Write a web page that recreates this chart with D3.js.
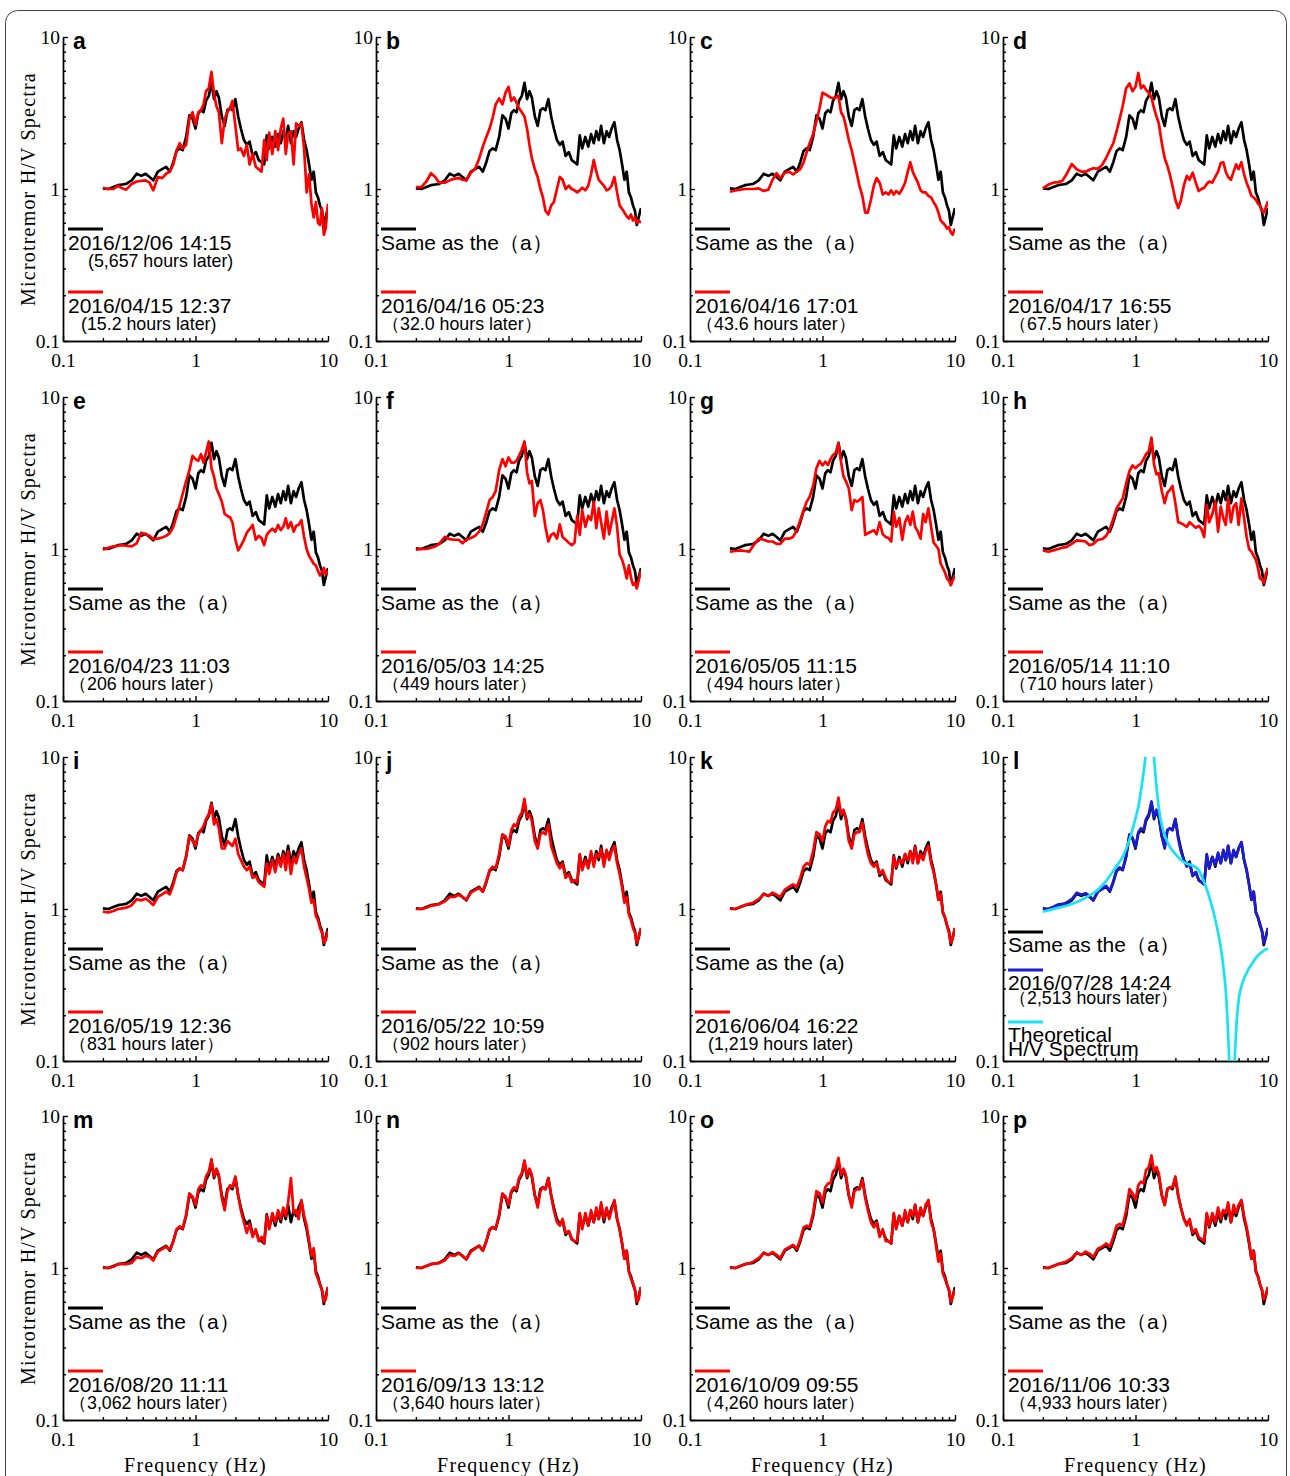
<!DOCTYPE html>
<html>
<head>
<meta charset="utf-8">
<script src="https://cdn.jsdelivr.net/npm/d3@7"></script>
<style>
body { margin: 0; background: #fff; }
</style>
</head>
<body>
<script>
// frequency grid (Hz) shared by the measured spectra
const FREQ = [
  0.2, 0.22, 0.24, 0.26, 0.28, 0.3, 0.33, 0.36, 0.39, 0.42, 0.45, 0.48, 0.52, 0.56, 0.6,
  0.64, 0.68, 0.72, 0.76, 0.8, 0.85, 0.9, 0.95, 1.0, 1.05, 1.1, 1.15, 1.2, 1.26, 1.32,
  1.38, 1.44, 1.5, 1.58, 1.66, 1.74, 1.82, 1.9, 2.0, 2.1, 2.2, 2.32, 2.44, 2.56, 2.7,
  2.85, 3.0, 3.15, 3.3, 3.45, 3.6, 3.8, 4.0, 4.2, 4.4, 4.6, 4.8, 5.0, 5.25, 5.5,
  5.75, 6.0, 6.3, 6.6, 6.9, 7.2, 7.5, 7.8, 8.1, 8.4, 8.7, 9.0, 9.3, 9.6, 10.0];

// black reference: 2016/12/06 14:15
const REF_1206 = [
  1.01, 1.0, 1.03, 1.06, 1.07, 1.08, 1.14, 1.26, 1.22, 1.26, 1.2, 1.14, 1.3, 1.35, 1.4,
  1.3, 1.5, 1.78, 1.85, 1.8, 2.2, 3.05, 2.9, 2.5, 3.15, 3.3, 3.2, 3.8, 4.1, 5.0,
  3.9, 4.4, 4.0, 3.0, 2.6, 3.3, 3.4, 3.3, 3.9, 3.0, 2.5, 2.1, 1.95, 2.05, 1.65,
  1.75, 1.55, 1.5, 1.45, 2.25, 1.85, 2.2, 1.9, 2.3, 2.0, 2.4, 2.1, 2.6, 2.0, 2.4,
  2.2, 2.5, 2.75, 2.1, 1.8, 1.45, 1.15, 1.3, 0.95, 0.88, 0.78, 0.72, 0.58, 0.65, 0.75];

const RED_A = [
  1.02, 1.0, 1.0, 1.05, 1.01, 0.99, 1.08, 1.12, 1.13, 1.14, 1.1, 0.98, 1.2, 1.18, 1.26,
  1.3, 1.45, 1.8, 2.0, 1.85, 1.95, 2.9, 3.2, 2.65, 3.2, 3.3, 3.6, 4.4, 4.6, 5.9,
  4.2, 3.5, 3.2, 2.0, 2.9, 3.2, 3.4, 3.8, 2.6, 1.8, 1.85, 1.65, 1.95, 1.45, 1.7,
  1.4, 1.35, 1.3, 2.1, 1.55, 2.35, 1.7, 2.4, 1.8, 2.5, 2.9, 1.7, 2.3, 2.4, 1.45,
  2.7, 2.6, 2.7, 1.85, 0.95, 1.25, 0.8, 0.65, 0.82, 0.6, 0.58, 0.75, 0.5, 0.55, 0.8];
const RED_B = [
  1.03, 1.03, 1.12, 1.27, 1.2, 1.1, 1.1, 1.14, 1.17, 1.18, 1.15, 1.14, 1.28, 1.36, 1.58,
  1.9, 2.2, 2.5, 2.95, 3.6, 3.95, 3.6, 4.3, 4.7, 3.8, 4.0, 3.7, 3.4, 3.2, 3.0,
  2.5, 1.95, 1.6, 1.35, 1.2, 1.0, 0.88, 0.72, 0.68, 0.78, 0.82, 1.0, 1.2, 1.15, 1.0,
  1.05, 1.0, 0.98, 0.95, 0.98, 1.02, 0.98, 1.05, 1.25, 1.55, 1.3, 1.15, 1.1, 1.05, 0.98,
  1.0, 1.05, 1.2, 0.95, 0.78, 0.74, 0.7, 0.66, 0.64, 0.68, 0.62, 0.65, 0.6, 0.62, 0.6];
const RED_C = [
  0.96, 0.98, 0.99, 1.0, 1.0, 1.0, 1.01, 0.97, 0.99, 1.15, 1.27, 1.18, 1.28, 1.3, 1.25,
  1.3, 1.35, 1.5, 1.75, 2.0, 2.3, 2.8, 3.4, 4.3, 4.2, 4.1, 4.0, 3.95, 4.0, 4.1,
  3.2, 3.0, 2.6, 2.1, 1.8, 1.5, 1.25, 1.05, 0.9, 0.7, 0.7, 0.85, 1.05, 1.18, 1.1,
  0.92, 0.95, 0.92, 0.98, 0.92, 0.97, 0.93, 1.0, 1.1, 1.3, 1.5, 1.3, 1.2, 1.1, 0.98,
  0.95, 0.95, 0.9, 0.88, 0.82, 0.77, 0.7, 0.62, 0.6, 0.58, 0.55, 0.56, 0.52, 0.5, 0.55];
const RED_D = [
  1.01, 1.07, 1.1, 1.11, 1.13, 1.24, 1.46, 1.35, 1.3, 1.3, 1.34, 1.37, 1.36, 1.44, 1.6,
  1.8, 2.0, 2.4, 2.9, 3.5, 4.6, 4.95, 4.4, 4.7, 5.8, 4.6, 4.8, 4.5, 4.3, 4.0,
  3.4, 3.0, 2.7, 2.0, 1.6, 1.42, 1.24, 1.05, 0.85, 0.75, 0.84, 1.06, 1.22, 1.15, 1.28,
  1.1, 0.97, 1.0, 1.02, 1.08, 1.12, 1.1, 1.2, 1.3, 1.48, 1.5, 1.3, 1.2, 1.15, 1.3,
  1.45, 1.35, 1.5, 1.25, 1.1, 1.0, 0.9, 0.88, 0.85, 0.8, 0.78, 0.72, 0.7, 0.75, 0.83];
const RED_E = [
  0.99, 1.02, 1.04, 1.05, 1.06, 1.05, 1.04, 1.09, 1.28, 1.25, 1.22, 1.16, 1.17, 1.19, 1.22,
  1.27, 1.4, 1.65, 1.95, 2.3, 2.8, 3.3, 4.1, 3.9, 3.8, 4.2, 3.7, 4.3, 5.1, 3.4,
  3.0, 2.5, 2.3, 2.05, 1.7, 1.65, 1.62, 1.5, 1.15, 0.98, 1.05, 1.15, 1.28, 1.35, 1.44,
  1.15, 1.22, 1.18, 1.06, 1.24, 1.3, 1.36, 1.3, 1.44, 1.33, 1.4, 1.59, 1.37, 1.5, 1.3,
  1.42, 1.44, 1.55, 1.2, 1.0, 0.9, 0.85, 0.8, 0.78, 0.72, 0.67, 0.7, 0.75, 0.68, 0.72];
const RED_F = [
  0.99, 1.0, 1.0, 1.02, 1.04, 1.08, 1.2, 1.16, 1.15, 1.15, 1.09, 1.15, 1.18, 1.22, 1.3,
  1.45, 1.75, 2.1, 2.2, 2.4, 3.3, 3.9, 3.5, 4.0, 3.7, 3.7, 3.8, 4.1, 4.5, 5.1,
  3.2, 2.7, 2.8, 1.65, 2.0, 2.1, 1.8, 1.4, 1.12, 1.24, 1.27, 1.17, 1.45, 1.2, 1.15,
  1.1, 1.06, 1.1, 1.65, 1.24, 1.8, 1.4, 1.65, 1.55, 2.05, 1.37, 1.85, 1.5, 1.17, 1.76,
  1.25, 1.5, 1.85, 1.4, 0.92, 0.85, 0.75, 0.64, 0.78, 0.65, 0.58, 0.6, 0.55, 0.62, 0.72];
const RED_G = [
  0.96, 0.97, 0.98, 0.97, 0.96, 1.05, 1.17, 1.15, 1.12, 1.12, 1.08, 1.08, 1.17, 1.17, 1.2,
  1.33, 1.55, 1.8, 2.05, 2.2, 2.6, 3.4, 3.8, 3.55, 3.75, 3.57, 3.9, 4.15, 4.3, 4.95,
  3.75, 3.0, 2.8, 2.5, 1.8, 2.1, 2.05, 2.1, 2.2, 1.24, 1.27, 1.3, 1.33, 1.25, 1.5,
  1.25, 1.2, 1.18, 1.12, 1.76, 1.4, 1.6, 1.15, 1.5, 1.65, 1.44, 1.76, 1.4, 1.3, 1.17,
  1.7, 1.5, 1.85, 1.4, 1.1, 1.05, 1.0, 0.8, 0.75, 0.7, 0.64, 0.62, 0.58, 0.62, 0.67];
const RED_H = [
  0.98, 0.96, 0.98, 1.0, 1.02, 1.03, 1.08, 1.14, 1.13, 1.12, 1.06, 1.08, 1.15, 1.16, 1.22,
  1.35, 1.58, 1.85, 2.0, 2.15, 2.7, 3.25, 3.55, 3.4, 3.55, 3.65, 3.9, 4.2, 4.4, 5.4,
  3.6, 3.1, 3.15, 2.4, 2.0, 2.35, 2.45, 2.6, 2.0, 1.5, 1.48, 1.44, 1.4, 1.5, 1.44,
  1.38, 1.42, 1.35, 1.2, 1.95, 1.5, 1.7, 2.05, 1.3, 1.9, 1.6, 1.44, 2.15, 1.5, 1.9,
  2.0, 1.44, 2.15, 1.6, 1.2, 1.0, 0.96, 0.9, 0.85, 0.75, 0.64, 0.63, 0.6, 0.68, 0.75];
const RED_I = [
  0.96, 0.95, 0.97, 1.0, 1.01, 1.02, 1.06, 1.16, 1.14, 1.17, 1.12, 1.06, 1.2, 1.25, 1.3,
  1.25, 1.45, 1.75, 1.85, 1.8, 2.25, 3.0, 2.8, 2.6, 3.1, 3.3, 3.5, 3.9, 4.2, 4.9,
  3.6, 3.9, 3.4, 2.5, 2.5, 2.8, 2.7, 2.6, 2.9, 2.3, 2.1, 1.9, 1.8, 1.9, 1.6,
  1.65, 1.5, 1.45, 1.4, 2.0, 1.7, 2.1, 1.75, 2.2, 1.9, 2.3, 1.8, 2.4, 1.7, 2.2,
  2.0, 2.3, 2.5, 1.9, 1.6, 1.35, 1.1, 1.15, 0.9, 0.85, 0.75, 0.7, 0.6, 0.62, 0.72];
const RED_J = [
  1.0, 1.0, 1.02, 1.05, 1.06, 1.08, 1.12, 1.2, 1.2, 1.24, 1.2, 1.15, 1.28, 1.33, 1.38,
  1.3, 1.52, 1.8, 1.9, 1.85, 2.3, 3.1, 3.0, 2.6, 3.3, 3.6, 3.5, 4.0, 4.3, 5.3,
  4.0, 4.2, 3.8, 2.8, 2.5, 3.1, 3.2, 3.1, 3.6, 2.6, 2.3, 2.0, 1.85, 2.0, 1.6,
  1.7, 1.5, 1.55, 1.5, 2.3, 1.8, 2.1, 1.85, 2.4, 1.9, 2.3, 2.2, 2.5, 1.9, 2.45,
  2.1, 2.4, 2.6, 2.0, 1.7, 1.4, 1.1, 1.2, 0.92, 0.85, 0.75, 0.7, 0.6, 0.66, 0.75];
const RED_K = [
  1.0, 1.0, 1.03, 1.06, 1.08, 1.1, 1.16, 1.25, 1.22, 1.28, 1.24, 1.2, 1.34, 1.4, 1.45,
  1.4, 1.6, 1.9, 2.0, 1.95, 2.4, 3.2, 3.1, 2.8, 3.5, 3.8, 3.7, 4.3, 4.5, 5.4,
  4.2, 4.5, 3.9, 2.8, 2.5, 3.1, 3.2, 3.2, 3.7, 2.8, 2.3, 2.0, 1.9, 2.0, 1.7,
  1.8, 1.6, 1.5, 1.5, 2.2, 1.9, 2.1, 2.0, 2.3, 2.1, 2.4, 2.0, 2.55, 2.0, 2.3,
  2.1, 2.4, 2.6, 2.0, 1.75, 1.45, 1.15, 1.25, 0.95, 0.88, 0.78, 0.7, 0.6, 0.64, 0.75];
const BLUE_L = [
  1.0, 1.0, 1.03, 1.07, 1.08, 1.1, 1.16, 1.28, 1.24, 1.27, 1.22, 1.14, 1.3, 1.36, 1.42,
  1.32, 1.52, 1.8, 1.88, 1.82, 2.25, 3.1, 2.95, 2.55, 3.2, 3.4, 3.3, 3.9, 4.2, 5.1,
  4.0, 4.5, 4.1, 3.0, 2.5, 3.3, 3.4, 3.3, 3.9, 2.9, 2.4, 2.1, 1.9, 2.0, 1.65,
  1.75, 1.55, 1.5, 1.45, 2.3, 1.85, 2.2, 1.95, 2.35, 2.0, 2.45, 2.1, 2.6, 2.0, 2.45,
  2.2, 2.5, 2.75, 2.1, 1.8, 1.45, 1.15, 1.3, 0.95, 0.88, 0.8, 0.72, 0.6, 0.65, 0.75];
const RED_M = [
  1.0, 1.0, 1.02, 1.06, 1.06, 1.06, 1.08, 1.18, 1.16, 1.2, 1.18, 1.12, 1.28, 1.33, 1.38,
  1.32, 1.5, 1.8, 1.88, 1.82, 2.25, 3.1, 2.95, 2.6, 3.3, 3.5, 3.4, 4.0, 4.3, 5.2,
  4.0, 4.5, 4.1, 2.9, 2.4, 3.2, 3.5, 3.4, 4.0, 3.0, 2.4, 2.0, 1.7, 1.95, 1.6,
  1.8, 1.5, 1.6, 1.45, 2.2, 1.8, 2.3, 2.0, 2.4, 2.1, 2.5, 2.2, 2.7, 3.9, 2.3,
  2.4, 2.1, 2.8, 2.2, 1.9, 1.5, 1.2, 1.35, 0.92, 0.85, 0.78, 0.72, 0.6, 0.62, 0.75];
const RED_N = [
  1.0, 1.0, 1.03, 1.06, 1.07, 1.08, 1.12, 1.22, 1.2, 1.25, 1.2, 1.14, 1.28, 1.34, 1.4,
  1.3, 1.5, 1.8, 1.86, 1.82, 2.25, 3.1, 2.95, 2.6, 3.2, 3.4, 3.3, 3.9, 4.2, 5.1,
  4.0, 4.5, 4.1, 3.0, 2.5, 3.2, 3.4, 3.3, 3.9, 3.0, 2.4, 2.0, 1.9, 2.1, 1.7,
  1.75, 1.55, 1.5, 1.5, 2.3, 1.8, 2.3, 1.9, 2.4, 2.0, 2.5, 2.1, 2.7, 2.1, 2.5,
  2.1, 2.4, 2.8, 2.1, 1.8, 1.45, 1.15, 1.3, 0.95, 0.85, 0.8, 0.72, 0.6, 0.62, 0.75];
const RED_O = [
  1.0, 1.0, 1.03, 1.06, 1.07, 1.1, 1.16, 1.25, 1.22, 1.27, 1.22, 1.16, 1.32, 1.37, 1.42,
  1.33, 1.55, 1.85, 1.9, 1.85, 2.3, 3.2, 3.1, 2.7, 3.4, 3.6, 3.6, 4.3, 4.5, 5.3,
  4.1, 4.5, 4.1, 3.0, 2.5, 3.2, 3.3, 3.3, 3.8, 2.9, 2.4, 2.0, 1.85, 2.0, 1.6,
  1.8, 1.5, 1.5, 1.45, 2.3, 1.8, 2.2, 1.9, 2.4, 2.0, 2.4, 2.2, 2.6, 2.0, 2.5,
  2.2, 2.6, 2.8, 2.0, 1.8, 1.4, 1.1, 1.25, 0.92, 0.85, 0.78, 0.72, 0.6, 0.65, 0.72];
const RED_P = [
  1.0, 1.0, 1.03, 1.06, 1.08, 1.1, 1.16, 1.26, 1.22, 1.28, 1.24, 1.18, 1.34, 1.38, 1.45,
  1.38, 1.6, 1.9, 1.95, 1.9, 2.4, 3.3, 3.1, 2.8, 3.5, 3.7, 3.6, 4.4, 4.6, 5.5,
  4.3, 4.6, 4.2, 3.0, 2.6, 3.3, 3.4, 3.4, 4.0, 3.0, 2.5, 2.1, 1.9, 2.1, 1.7,
  1.8, 1.6, 1.55, 1.5, 2.3, 1.9, 2.3, 2.0, 2.5, 2.1, 2.4, 2.3, 2.7, 2.0, 2.6,
  2.3, 2.6, 2.8, 2.2, 1.85, 1.5, 1.15, 1.3, 0.95, 0.88, 0.78, 0.72, 0.62, 0.66, 0.75];

// theoretical H/V spectrum (panel l)
const THEO_FREQ = [0.2, 0.25, 0.3, 0.35, 0.4, 0.45, 0.5, 0.6, 0.7, 0.8, 0.9, 1.0, 1.05, 1.1, 1.15,
  1.2, 1.25, 1.3, 1.35, 1.4, 1.45, 1.5, 1.6, 1.7, 1.8, 1.9, 2.0, 2.2, 2.4, 2.6,
  2.8, 3.0, 3.2, 3.4, 3.6, 3.8, 4.0, 4.2, 4.4, 4.6, 4.8, 5.0, 5.1, 5.2, 5.3,
  5.4, 5.5, 5.6, 5.8, 6.0, 6.3, 6.6, 7.0, 7.5, 8.0, 8.5, 9.0, 9.5, 10.0];
const THEO_HV = [0.96, 1.01, 1.05, 1.1, 1.16, 1.23, 1.3, 1.53, 1.85, 2.2, 2.85, 3.95, 4.7, 6.0, 7.9,
  11, 20, 60, 14, 8.5, 6.0, 4.6, 3.4, 2.9, 2.6, 2.42, 2.3, 2.1, 2.0, 1.95,
  1.9, 1.8, 1.6, 1.4, 1.2, 1.02, 0.85, 0.7, 0.56, 0.42, 0.29, 0.15, 0.1, 0.06, 0.02,
  0.04, 0.07, 0.1, 0.18, 0.25, 0.31, 0.35, 0.39, 0.43, 0.47, 0.5, 0.52, 0.54, 0.55];

const LETTERS = ["a", "b", "c", "d", "e", "f", "g", "h", "i", "j", "k", "l", "m", "n", "o", "p"];
const DATES = ["2016/04/15 12:37", "2016/04/16 05:23", "2016/04/16 17:01", "2016/04/17 16:55",
  "2016/04/23 11:03", "2016/05/03 14:25", "2016/05/05 11:15", "2016/05/14 11:10",
  "2016/05/19 12:36", "2016/05/22 10:59", "2016/06/04 16:22", "2016/07/28 14:24",
  "2016/08/20 11:11", "2016/09/13 13:12", "2016/10/09 09:55", "2016/11/06 10:33"];
const HOURS = ["(15.2 hours later)", "（32.0 hours later）", "（43.6 hours later）", "（67.5 hours later）",
  "（206 hours later）", "（449 hours later）", "（494 hours later）", "（710 hours later）",
  "（831 hours later）", "（902 hours later）", "(1,219 hours later)", "（2,513 hours later）",
  "（3,062 hours later）", "（3,640 hours later）", "（4,260 hours later）", "（4,933 hours later）"];
const SERIES = [RED_A, RED_B, RED_C, RED_D, RED_E, RED_F, RED_G, RED_H,
  RED_I, RED_J, RED_K, BLUE_L, RED_M, RED_N, RED_O, RED_P];

var W = 1290, H = 1476;
var colX = [63, 376, 690, 1003], rowY = [37, 397, 757, 1116];
var pw = 265, ph = 304;
var SERIF = "'Liberation Serif', 'Times New Roman', serif";
var SANS = "'Liberation Sans', Arial, sans-serif";

var svg = d3.select("body").append("svg")
    .attr("width", W)
    .attr("height", H);

// outer frame
svg.append("rect")
    .attr("x", 5.5).attr("y", 10.5)
    .attr("width", 1281).attr("height", 1490)
    .attr("rx", 12)
    .attr("fill", "none")
    .attr("stroke", "#444")
    .attr("stroke-width", 1);

svg.append("defs").append("clipPath").attr("id", "plotclip")
    .append("rect").attr("width", pw).attr("height", ph);

var x = d3.scaleLog().domain([0.1, 10]).range([0, pw]);
var y = d3.scaleLog().domain([0.1, 10]).range([ph, 0]);

var line = d3.line()
    .x(d => x(d[0]))
    .y(d => y(d[1]));
var smooth = d3.line()
    .x(d => x(d[0]))
    .y(d => y(d[1]))
    .curve(d3.curveMonotoneX);

var major = [0.1, 1, 10];
var minor = [0.2, 0.3, 0.4, 0.5, 0.6, 0.7, 0.8, 0.9, 2, 3, 4, 5, 6, 7, 8, 9];

function styleAxis(sel) {
    sel.selectAll("path, line").attr("stroke", "#000").attr("stroke-width", 1.4);
    sel.selectAll("text")
        .style("font-family", SERIF)
        .style("font-size", "19.5px")
        .attr("fill", "#000");
}

LETTERS.forEach(function (letter, i) {
    var c = i % 4, r = Math.floor(i / 4);
    var g = svg.append("g")
        .attr("transform", "translate(" + colX[c] + "," + rowY[r] + ")");

    // axes: ticks point inward
    g.append("g")
        .call(d3.axisLeft(y).tickValues(major).tickFormat(d => String(d))
            .tickSize(-5).tickSizeOuter(0).tickPadding(3))
        .call(styleAxis);
    g.append("g")
        .call(d3.axisLeft(y).tickValues(minor).tickFormat("").tickSize(-3).tickSizeOuter(0))
        .call(styleAxis);
    g.append("g")
        .attr("transform", "translate(0," + ph + ")")
        .call(d3.axisBottom(x).tickValues(major).tickFormat(d => String(d))
            .tickSize(-5).tickSizeOuter(0).tickPadding(12))
        .call(styleAxis);
    g.append("g")
        .attr("transform", "translate(0," + ph + ")")
        .call(d3.axisBottom(x).tickValues(minor).tickFormat("").tickSize(-3).tickSizeOuter(0))
        .call(styleAxis);

    if (c === 0) {
        g.append("text")
            .attr("transform", "translate(-28," + (ph / 2) + ") rotate(-90)")
            .attr("text-anchor", "middle")
            .style("font-family", SERIF)
            .style("font-size", "20px")
            .style("letter-spacing", "1.2px")
            .text("Microtremor H/V Spectra");
    }
    if (r === 3) {
        g.append("text")
            .attr("x", pw / 2).attr("y", ph + 52)
            .attr("text-anchor", "middle")
            .style("font-family", SERIF)
            .style("font-size", "20px")
            .style("letter-spacing", "1.2px")
            .text("Frequency (Hz)");
    }

    // curves
    var plot = g.append("g").attr("clip-path", "url(#plotclip)");
    var isL = letter === "l";
    plot.append("path")
        .attr("d", line(d3.zip(FREQ, REF_1206)))
        .attr("fill", "none").attr("stroke", "#000").attr("stroke-width", 2.7)
        .attr("stroke-linejoin", "round");
    plot.append("path")
        .attr("d", line(d3.zip(FREQ, SERIES[i])))
        .attr("fill", "none").attr("stroke", isL ? "#1c1cd0" : "#ff0000").attr("stroke-width", 2.7)
        .attr("stroke-linejoin", "round");
    if (isL) {
        plot.append("path")
            .attr("d", smooth(d3.zip(THEO_FREQ, THEO_HV)))
            .attr("fill", "none").attr("stroke", "#19e3f2").attr("stroke-width", 2.7);
    }

    // panel letter
    g.append("text")
        .attr("x", 10).attr("y", 12)
        .style("font-family", SANS)
        .style("font-weight", "bold")
        .style("font-size", "23px")
        .text(letter);

    // legend
    var lx = 5;
    var legend = g.append("g").attr("fill", "#000");
    function key(yy, color) {
        legend.append("line")
            .attr("x1", lx).attr("x2", lx + 35)
            .attr("y1", yy).attr("y2", yy)
            .attr("stroke", color).attr("stroke-width", 3);
    }
    function label(yy, txt, size, dx) {
        legend.append("text")
            .attr("x", lx + (dx || 0)).attr("y", yy)
            .style("font-family", SANS)
            .style("font-size", size + "px")
            .text(txt);
    }
    if (isL) {
        key(175, "#000");
        label(195, "Same as the（a）", 21);
        key(213, "#1c1cd0");
        label(233, DATES[i], 21);
        label(247, HOURS[i], 17.8, 1);
        key(265, "#19e3f2");
        label(285, "Theoretical", 21);
        label(299, "H/V Spectrum", 21);
    } else {
        key(192, "#000");
        if (i === 0) {
            label(213, "2016/12/06 14:15", 21);
            label(230, "(5,657 hours later)", 17.8, 20);
        } else {
            label(213, letter === "k" ? "Same as the (a)" : "Same as the（a）", 21);
        }
        key(255, "#ff0000");
        label(276, DATES[i], 21);
        label(293, HOURS[i], 17.8, HOURS[i].charAt(0) === "(" ? 13 : 1);
    }
});
</script>
</body>
</html>
